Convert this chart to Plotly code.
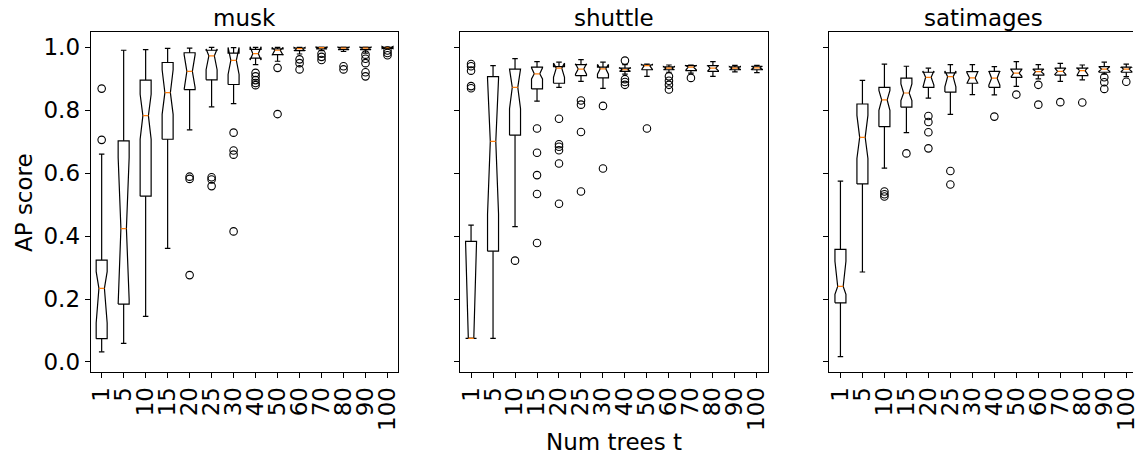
import plotly.graph_objects as go

W, H = 1139, 463

TREE_LABELS = ["1", "5", "10", "15", "20", "25", "30", "40", "50", "60", "70", "80", "90", "100"]
POSITIONS = list(range(1, 15))
TITLES = ["musk", "shuttle", "satimages"]

# ---------------- musk ----------------
musk_whislo = [0.032, 0.059, 0.145, 0.361, 0.738, 0.811, 0.821, 0.945, 0.956, 0.979, 0.990, 0.987, 0.982, 0.995]
musk_q1 = [0.074, 0.184, 0.527, 0.708, 0.866, 0.897, 0.882, 0.966, 0.977, 0.990, 0.995, 0.993, 0.993, 0.997]
musk_med = [0.234, 0.424, 0.783, 0.856, 0.924, 0.973, 0.959, 0.980, 0.991, 0.996, 0.999, 0.998, 0.998, 0.999]
musk_q3 = [0.324, 0.703, 0.896, 0.952, 0.983, 0.991, 0.982, 0.994, 0.995, 0.998, 1.000, 1.000, 1.000, 1.000]
musk_whishi = [0.661, 0.991, 0.993, 0.997, 0.998, 1.000, 0.999, 1.000, 1.000, 1.000, 1.000, 1.000, 1.000, 1.000]
musk_notch_lo = [0.124, 0.198, 0.708, 0.787, 0.872, 0.929, 0.914, 0.960, 0.975, 0.989, 0.995, 0.993, 0.993, 0.996]
musk_notch_hi = [0.287, 0.650, 0.851, 0.929, 0.977, 0.995, 1.000, 1.002, 1.000, 1.000, 1.001, 1.001, 1.001, 1.003]
musk_fliers = [
    [0.706, 0.869], [], [], [],
    [0.589, 0.582, 0.276],
    [0.587, 0.580, 0.559],
    [0.729, 0.672, 0.659, 0.415],
    [0.919, 0.908, 0.896, 0.887, 0.880],
    [0.935, 0.788],
    [0.962, 0.950, 0.930],
    [0.980, 0.970, 0.960],
    [0.940, 0.930],
    [0.977, 0.964, 0.950, 0.921, 0.908],
    [0.990, 0.982, 0.975],
]

# ---------------- shuttle ----------------
shuttle_whislo = [0.075, 0.075, 0.430, 0.829, 0.873, 0.892, 0.870, 0.915, 0.908, 0.921, 0.918, 0.908, 0.922, 0.920]
shuttle_q1 = [0.075, 0.352, 0.721, 0.868, 0.886, 0.910, 0.903, 0.924, 0.929, 0.929, 0.926, 0.924, 0.929, 0.929]
shuttle_med = [0.075, 0.701, 0.873, 0.916, 0.934, 0.931, 0.932, 0.929, 0.942, 0.934, 0.937, 0.934, 0.934, 0.935]
shuttle_q3 = [0.383, 0.907, 0.931, 0.937, 0.939, 0.945, 0.937, 0.934, 0.944, 0.938, 0.942, 0.942, 0.938, 0.940]
shuttle_whishi = [0.435, 0.942, 0.964, 0.955, 0.953, 0.961, 0.953, 0.945, 0.947, 0.944, 0.944, 0.955, 0.943, 0.943]
shuttle_notch_lo = [0.075, 0.470, 0.805, 0.900, 0.905, 0.915, 0.915, 0.924, 0.930, 0.929, 0.928, 0.926, 0.930, 0.930]
shuttle_notch_hi = [0.383, 0.900, 0.931, 0.935, 0.950, 0.948, 0.946, 0.936, 0.946, 0.939, 0.943, 0.943, 0.939, 0.940]
shuttle_fliers = [
    [0.947, 0.940, 0.926, 0.877, 0.870],
    [],
    [0.322],
    [0.742, 0.665, 0.594, 0.534, 0.378],
    [0.773, 0.692, 0.684, 0.673, 0.631, 0.503],
    [0.831, 0.818, 0.731, 0.542],
    [0.814, 0.615],
    [0.958, 0.899, 0.890, 0.881],
    [0.742],
    [0.908, 0.894, 0.881, 0.866],
    [0.903],
    [],
    [],
    [],
]

# ---------------- satimages ----------------
sat_whislo = [0.017, 0.286, 0.616, 0.729, 0.839, 0.787, 0.850, 0.849, 0.876, 0.900, 0.892, 0.897, 0.915, 0.907]
sat_q1 = [0.188, 0.566, 0.748, 0.810, 0.873, 0.858, 0.886, 0.873, 0.905, 0.912, 0.912, 0.910, 0.921, 0.921]
sat_med = [0.240, 0.714, 0.833, 0.855, 0.905, 0.907, 0.903, 0.902, 0.918, 0.923, 0.924, 0.926, 0.931, 0.931]
sat_q3 = [0.358, 0.820, 0.873, 0.902, 0.921, 0.919, 0.923, 0.924, 0.931, 0.931, 0.934, 0.934, 0.939, 0.937]
sat_whishi = [0.575, 0.895, 0.947, 0.940, 0.934, 0.945, 0.945, 0.939, 0.955, 0.945, 0.949, 0.944, 0.953, 0.947]
sat_notch_lo = [0.215, 0.647, 0.800, 0.831, 0.880, 0.875, 0.885, 0.880, 0.908, 0.915, 0.914, 0.914, 0.923, 0.923]
sat_notch_hi = [0.320, 0.784, 0.863, 0.884, 0.925, 0.925, 0.920, 0.925, 0.930, 0.931, 0.934, 0.936, 0.939, 0.938]
sat_fliers = [
    [], [],
    [0.542, 0.533, 0.526],
    [0.663],
    [0.782, 0.763, 0.730, 0.679],
    [0.607, 0.564],
    [],
    [0.780],
    [0.850],
    [0.881, 0.818],
    [0.826],
    [0.825],
    [0.905, 0.889, 0.868],
    [0.891],
]

DATA = [
    (musk_whislo, musk_q1, musk_med, musk_q3, musk_whishi, musk_notch_lo, musk_notch_hi, musk_fliers),
    (shuttle_whislo, shuttle_q1, shuttle_med, shuttle_q3, shuttle_whishi, shuttle_notch_lo, shuttle_notch_hi, shuttle_fliers),
    (sat_whislo, sat_q1, sat_med, sat_q3, sat_whishi, sat_notch_lo, sat_notch_hi, sat_fliers),
]

BOX_W = 0.5
CAP_W = 0.25
LINE_W = 1.2
FONT = "DejaVu Sans"
FS = 23

# pixel layout of the three axes
AX_LEFT = [89.3, 461.3, 833.3]
AX_RIGHT = [399.3, 771.6, 1139.0]
AX_TOP, AX_BOTTOM = 32.7, 374.3
PX_PER_UNIT = (399.3 - 89.3) / 14.0


def px_x(p):
    return p / W


def px_y(p):
    return 1 - p / H


fig = go.Figure()

for k, (lo, q1, med, q3, hi, nlo, nhi, fl) in enumerate(DATA):
    xa = "x" if k == 0 else f"x{k + 1}"
    ya = "y" if k == 0 else f"y{k + 1}"
    wx, wy, bx, by, mx, my, fx, fy = [], [], [], [], [], [], [], []
    for i, p in enumerate(POSITIONS):
        L, R = p - BOX_W / 2, p + BOX_W / 2
        mL, mR = p - BOX_W / 4, p + BOX_W / 4
        cL, cR = p - CAP_W / 2, p + CAP_W / 2
        wx += [p, p, None, p, p, None, cL, cR, None, cL, cR, None]
        wy += [q1[i], lo[i], None, q3[i], hi[i], None, lo[i], lo[i], None, hi[i], hi[i], None]
        bx += [L, R, R, mR, R, R, L, L, mL, L, L, None]
        by += [q1[i], q1[i], nlo[i], med[i], nhi[i], q3[i], q3[i], nhi[i], med[i], nlo[i], q1[i], None]
        mx += [mL, mR, None]
        my += [med[i], med[i], None]
        for v in fl[i]:
            fx.append(p)
            fy.append(v)
    fig.add_trace(go.Scatter(x=wx, y=wy, mode="lines", xaxis=xa, yaxis=ya,
                             line=dict(color="black", width=LINE_W), hoverinfo="skip", showlegend=False))
    fig.add_trace(go.Scatter(x=bx, y=by, mode="lines", xaxis=xa, yaxis=ya,
                             line=dict(color="black", width=LINE_W), hoverinfo="skip", showlegend=False))
    fig.add_trace(go.Scatter(x=mx, y=my, mode="lines", xaxis=xa, yaxis=ya,
                             line=dict(color="#ff7f0e", width=LINE_W), hoverinfo="skip", showlegend=False))
    fig.add_trace(go.Scatter(x=fx, y=fy, mode="markers", xaxis=xa, yaxis=ya,
                             marker=dict(symbol="circle-open", size=7.5, color="black", line=dict(width=1.1)),
                             hoverinfo="skip", showlegend=False))

YRANGE = [-0.0316, 1.0474]
layout = dict(
    width=W, height=H, margin=dict(l=0, r=0, t=0, b=0),
    paper_bgcolor="white", plot_bgcolor="white",
    font=dict(family=FONT, size=FS, color="black"),
    showlegend=False,
)
for k in range(3):
    xs = "xaxis" if k == 0 else f"xaxis{k + 1}"
    ys = "yaxis" if k == 0 else f"yaxis{k + 1}"
    xa = "x" if k == 0 else f"x{k + 1}"
    ya = "y" if k == 0 else f"y{k + 1}"
    xmax = 0.5 + (AX_RIGHT[k] - AX_LEFT[k]) / PX_PER_UNIT
    layout[xs] = dict(
        domain=[px_x(AX_LEFT[k]), px_x(AX_RIGHT[k])], anchor=ya, range=[0.5, xmax],
        tickmode="array", tickvals=POSITIONS, ticktext=TREE_LABELS, tickangle=-90,
        ticks="outside", ticklen=5, tickwidth=1, tickcolor="black",
        showline=True, linecolor="black", linewidth=1, mirror=True,
        showgrid=False, zeroline=False, tickfont=dict(size=FS, family=FONT),
        ticklabeloverflow="allow",
    )
    layout[ys] = dict(
        domain=[px_y(AX_BOTTOM), px_y(AX_TOP)], anchor=xa, range=YRANGE,
        tickmode="array", tickvals=[0, 0.2, 0.4, 0.6, 0.8, 1.0],
        ticktext=["0.0", "0.2", "0.4", "0.6", "0.8", "1.0"],
        ticks="outside", ticklen=5, tickwidth=1, tickcolor="black",
        showline=True, linecolor="black", linewidth=1, mirror=(k < 2),
        showgrid=False, zeroline=False, showticklabels=(k == 0),
        tickfont=dict(size=FS, family=FONT),
    )
fig.update_layout(**layout)

ann = []
for k, t in enumerate(TITLES):
    cx = (AX_LEFT[k] + AX_LEFT[k] + 310.3) / 2
    ann.append(dict(text=t, x=px_x(cx), y=px_y(18), xref="paper", yref="paper",
                    xanchor="center", yanchor="middle", showarrow=False,
                    font=dict(size=FS, family=FONT, color="black")))
ann.append(dict(text="AP score", x=px_x(22), y=px_y((AX_TOP + AX_BOTTOM) / 2), xref="paper", yref="paper",
                xanchor="center", yanchor="middle", showarrow=False, textangle=-90,
                font=dict(size=FS, family=FONT, color="black")))
ann.append(dict(text="Num trees t", x=px_x((AX_LEFT[1] + AX_RIGHT[1]) / 2), y=px_y(445), xref="paper", yref="paper",
                xanchor="center", yanchor="middle", showarrow=False,
                font=dict(size=FS, family=FONT, color="black")))
fig.update_layout(annotations=ann)

fig.write_html("out.html")
